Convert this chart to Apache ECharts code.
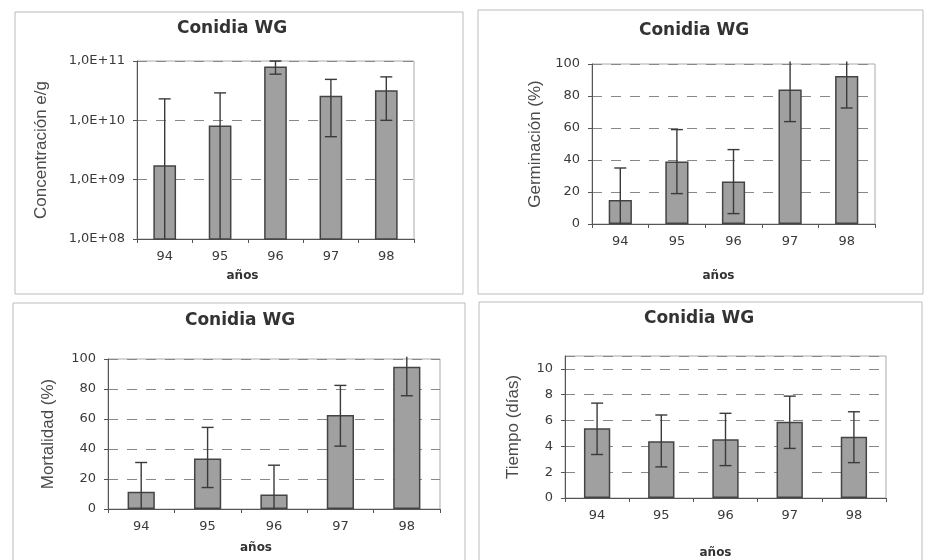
<!DOCTYPE html>
<html lang="es">
<head>
    <meta charset="UTF-8">
    <title>Conidia WG</title>
    <script src="https://cdn.jsdelivr.net/npm/echarts@6/dist/echarts.min.js"></script>
</head>
<body style="margin:0;background:#fff">

<div id="main" style="width: 932px;height: 560px"></div>

<script type="text/javascript">
    // años
    var years = ['94', '95', '96', '97', '98'];

    // Concentración e/g (escala log)
    var concMean = [1.75e9, 8.2e9, 8.1e10, 2.6e10, 3.2e10];
    var concHigh = [2.3e10, 2.9e10, 1.0e11, 4.9e10, 5.4e10];
    var concLow = [null, null, 6.0e10, 5.3e9, 1.0e10];

    // Germinación (%)
    var germMean = [15, 39, 26.5, 84, 92.5];
    var germHigh = [35, 59, 46.5, 101.5, 101.5];
    var germLow = [null, 19, 6.5, 64, 72.5];

    // Mortalidad (%)
    var mortMean = [11.5, 33.7, 9.6, 62.6, 94.9];
    var mortHigh = [31, 54.4, 29.2, 82.4, 101.5];
    var mortLow = [null, 14.3, null, 41.9, 75.5];

    // Tiempo (días)
    var tiempoMean = [5.4, 4.4, 4.55, 5.9, 4.75];
    var tiempoHigh = [7.35, 6.43, 6.56, 7.89, 6.68];
    var tiempoLow = [3.37, 2.41, 2.51, 3.84, 2.74];

    var tickFont = 'DejaVu Sans';
    var nameFont = 'Liberation Sans';

    var myChart = echarts.init(document.getElementById('main'));

    function xAx(gi, gap, shift) {
        return {
            type: 'category', gridIndex: gi, data: years,
            name: 'años', nameLocation: 'middle', nameGap: gap,
            nameTextStyle: {fontFamily: tickFont, fontWeight: 'bold', fontSize: 12, color: '#333', padding: [0, shift * 2, 0, 0]},
            axisLine: {lineStyle: {color: '#555', width: 1}},
            axisTick: {show: true, length: 4, lineStyle: {color: '#555'}},
            axisLabel: {fontFamily: tickFont, fontSize: 13, color: '#3a3a3a', margin: 11},
            splitLine: {show: false}
        };
    }

    function yAx(gi, name, gap, extra) {
        var ax = {
            type: 'value', gridIndex: gi,
            name: name, nameLocation: 'middle', nameGap: gap,
            nameTextStyle: {fontFamily: nameFont, fontSize: 17, color: '#4a4a4a'},
            axisLine: {show: true, lineStyle: {color: '#555', width: 1}},
            axisTick: {show: true, length: 4, lineStyle: {color: '#555'}},
            axisLabel: {fontFamily: tickFont, fontSize: 13, color: '#3a3a3a', margin: 12},
            splitLine: {show: true, lineStyle: {color: '#888', type: [10, 9], width: 1}}
        };
        for (var k in extra) ax[k] = extra[k];
        return ax;
    }

    function bars(gi, data) {
        return {
            type: 'bar', xAxisIndex: gi, yAxisIndex: gi, data: data,
            barWidth: '41%', silent: true,
            itemStyle: {color: '#a0a0a0', borderColor: '#444', borderWidth: 1.5}
        };
    }

    function errorBars(gi, low, high, yMin, yMax) {
        var data = years.map(function (y, i) {
            return [i, low[i] == null ? yMin : low[i], high[i], low[i] == null ? 0 : 1];
        });
        return {
            type: 'custom', xAxisIndex: gi, yAxisIndex: gi, data: data,
            encode: {x: 0, y: [1, 2]}, clip: false, silent: true, z: 5,
            renderItem: function (params, api) {
                var i = api.value(0);
                var top = api.coord([i, api.value(2)]);
                var bot = api.coord([i, api.value(1)]);
                var half = 6;
                var style = {stroke: '#3a3a3a', lineWidth: 1.4};
                var children = [{type: 'line', shape: {x1: top[0], y1: top[1], x2: bot[0], y2: bot[1]}, style: style}];
                if (api.value(2) <= yMax * 1.0001) {
                    children.push({type: 'line', shape: {x1: top[0] - half, y1: top[1], x2: top[0] + half, y2: top[1]}, style: style});
                }
                if (api.value(3) === 1) {
                    children.push({type: 'line', shape: {x1: bot[0] - half, y1: bot[1], x2: bot[0] + half, y2: bot[1]}, style: style});
                }
                return {type: 'group', children: children};
            }
        };
    }

    function frame(x, y, w, h) {
        return {type: 'rect', shape: {x: x, y: y, width: w, height: h}, style: {fill: 'none', stroke: '#bbb', lineWidth: 1}, silent: true};
    }

    function title(x, y) {
        return {type: 'text', x: x, y: y, style: {text: 'Conidia WG', fontFamily: tickFont, fontWeight: 'bold', fontSize: 17, fill: '#333', align: 'center', verticalAlign: 'middle'}, silent: true};
    }

    var gridStyle = {show: true, borderColor: '#aaa', borderWidth: 1, backgroundColor: 'transparent'};

    option = {
        backgroundColor: '#fff',
        animation: false,
        graphic: [
            frame(15, 12, 448, 282), frame(478, 10, 445, 284),
            frame(13, 303, 452, 270), frame(479, 302, 443, 270),
            title(232, 29), title(694, 31), title(240, 321), title(699, 319)
        ],
        grid: [
            Object.assign({left: 137, top: 61, width: 277, height: 178}, gridStyle),
            Object.assign({left: 592, top: 64, width: 283, height: 160}, gridStyle),
            Object.assign({left: 108, top: 359, width: 332, height: 150}, gridStyle),
            Object.assign({left: 565, top: 356, width: 321, height: 145}, gridStyle)
        ],
        xAxis: [xAx(0, 31, 33), xAx(1, 46, 15), xAx(2, 33, 18), xAx(3, 49, 10)],
        yAxis: [
            yAx(0, 'Concentración e/g', 87, {
                type: 'log', logBase: 10, min: 1e8, max: 1e11, splitNumber: 3,
                axisLabel: {fontFamily: tickFont, fontSize: 13, color: '#3a3a3a', margin: 12, formatter: function (v) {
                    var e = Math.round(Math.log10(v));
                    return '1,0E+' + (e < 10 ? '0' + e : e);
                }}
            }),
            yAx(1, 'Germinación (%)', 48, {min: 0, max: 100, interval: 20}),
            yAx(2, 'Mortalidad (%)', 51, {min: 0, max: 100, interval: 20}),
            yAx(3, 'Tiempo (días)', 43, {min: 0, max: 11, interval: 2,
                axisLabel: {fontFamily: tickFont, fontSize: 13, color: '#3a3a3a', margin: 12, showMaxLabel: false}})
        ],
        series: [
            bars(0, concMean), errorBars(0, concLow, concHigh, 1e8, 1e11),
            bars(1, germMean), errorBars(1, germLow, germHigh, 0, 100),
            bars(2, mortMean), errorBars(2, mortLow, mortHigh, 0, 100),
            bars(3, tiempoMean), errorBars(3, tiempoLow, tiempoHigh, 0, 11)
        ]
    };

    myChart.setOption(option);
</script>
</body>
</html>
